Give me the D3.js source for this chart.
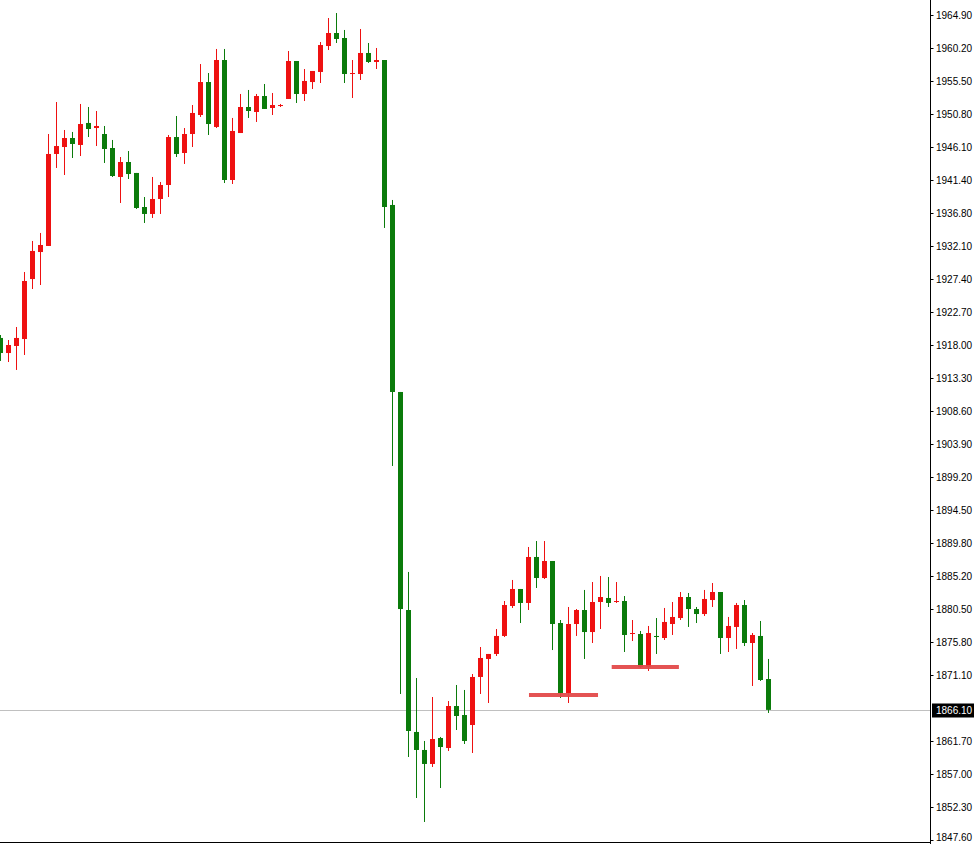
<!DOCTYPE html>
<html>
<head>
<meta charset="utf-8">
<script src="https://cdn.jsdelivr.net/npm/d3@7"></script>
<style>
  html, body { margin: 0; padding: 0; background: #fff; }
  svg { display: block; }
</style>
</head>
<body>
<svg id="chart" width="979" height="844"></svg>
<script>
// ---- data ----
const opens  = [1918.98,1916.84,1917.84,1918.83,1927.36,1931.20,1932.06,1945.14,1946.13,1947.41,
                1946.42,1949.55,1948.83,1947.98,1945.99,1941.87,1944.00,1942.44,1937.60,1936.61,
                1938.74,1940.73,1947.55,1945.28,1947.98,1950.68,1955.37,1948.98,1958.50,1941.44,
                1948.12,1951.82,1951.11,1953.38,1951.68,1951.96,1952.96,1958.36,1953.67,1955.37,
                1956.80,1960.49,1962.34,1961.63,1956.51,1956.51,1959.50,1958.22,1958.50,1937.89,
                1911.30,1880.30,1862.96,1860.40,1858.41,1862.10,1860.68,1866.65,1865.37,1863.95,
                1870.78,1873.34,1874.05,1876.61,1880.87,1883.29,1881.30,1887.84,1884.85,1887.27,
                1878.45,1868.50,1878.31,1880.30,1877.17,1881.44,1882.01,1881.44,1881.58,1876.89,
                1876.89,1872.20,1876.61,1876.32,1878.31,1879.16,1882.15,1880.44,1879.73,1881.72,
                1882.86,1876.32,1877.89,1881.01,1875.61,1876.61,1870.49];
const highs  = [1919.40,1918.69,1920.54,1928.36,1932.77,1933.91,1947.98,1952.53,1948.55,1948.27,
                1952.25,1951.82,1951.25,1949.12,1947.13,1944.71,1945.56,1942.44,1939.02,1941.87,
                1941.16,1947.84,1950.54,1948.83,1952.10,1957.93,1956.65,1960.07,1960.07,1950.26,
                1953.67,1954.24,1953.67,1955.09,1953.81,1952.25,1959.78,1958.36,1957.22,1956.94,
                1961.06,1964.47,1965.18,1962.77,1958.50,1962.91,1960.92,1960.21,1958.50,1938.60,
                1911.30,1885.71,1870.63,1861.68,1867.93,1862.25,1867.36,1869.64,1868.93,1871.20,
                1875.04,1874.05,1877.60,1881.58,1884.57,1883.29,1889.26,1890.11,1890.11,1887.27,
                1878.88,1880.73,1880.44,1883.15,1884.28,1885.14,1884.99,1884.28,1882.29,1878.88,
                1877.32,1878.03,1879.16,1880.59,1881.44,1882.86,1882.72,1880.73,1883.15,1884.14,
                1882.86,1879.31,1881.30,1881.72,1877.03,1878.74,1873.34];
const lows   = [1915.71,1915.56,1914.43,1916.56,1925.94,1926.51,1932.06,1943.15,1942.15,1944.57,
                1944.85,1947.55,1946.27,1943.86,1941.87,1938.17,1941.58,1937.32,1935.33,1936.04,
                1936.61,1939.02,1944.71,1943.72,1946.13,1950.40,1947.84,1948.83,1941.01,1940.87,
                1948.12,1950.26,1949.69,1951.54,1950.68,1951.82,1952.96,1952.39,1952.67,1954.38,
                1955.23,1959.92,1960.92,1955.23,1953.10,1955.66,1958.08,1957.22,1934.62,1900.78,
                1868.36,1859.40,1853.57,1850.16,1857.98,1854.99,1860.25,1863.24,1861.25,1859.97,
                1868.36,1867.08,1873.76,1876.46,1880.59,1878.45,1880.30,1883.43,1884.71,1874.61,
                1867.79,1867.08,1876.61,1873.34,1875.61,1877.60,1880.73,1881.30,1874.33,1875.89,
                1872.06,1871.63,1874.05,1876.04,1876.75,1878.88,1877.89,1878.45,1879.45,1880.73,
                1874.05,1874.33,1874.76,1875.18,1869.50,1870.21,1865.66];
const closes = [1916.84,1917.98,1918.98,1927.08,1931.35,1932.20,1945.14,1946.27,1947.41,1946.56,
                1949.40,1948.69,1949.12,1945.85,1942.01,1944.00,1942.29,1937.46,1936.61,1938.74,
                1940.73,1947.55,1945.14,1947.98,1950.97,1955.37,1949.40,1958.50,1941.44,1948.41,
                1951.82,1951.25,1953.38,1951.54,1952.10,1952.10,1958.36,1953.67,1955.52,1956.94,
                1960.63,1962.34,1961.49,1956.51,1956.65,1959.50,1958.22,1958.50,1937.60,1911.30,
                1880.44,1863.10,1860.40,1858.41,1861.96,1860.82,1866.65,1865.23,1861.68,1870.78,
                1873.48,1874.05,1876.61,1881.01,1883.29,1881.30,1887.84,1884.85,1887.27,1878.31,
                1868.50,1878.31,1880.30,1877.17,1881.44,1882.15,1881.30,1881.58,1876.75,1877.03,
                1872.20,1877.03,1876.46,1878.60,1879.31,1882.15,1880.44,1879.73,1881.87,1882.86,
                1876.32,1878.03,1881.01,1875.61,1876.75,1870.35,1866.10];
const tickLabels = ["1964.90","1960.20","1955.50","1950.80","1946.10","1941.40","1936.80","1932.10",
                    "1927.40","1922.70","1918.00","1913.30","1908.60","1903.90","1899.20","1894.50",
                    "1889.80","1885.20","1880.50","1875.80","1871.10","1861.70","1857.00","1852.30","1847.60"];
const currentPrice = [1866.10];
const supportPrices = [1868.22, 1872.20];
const supportStart  = [66.06, 76.4];
const supportEnd    = [74.69, 84.8];

// ---- layout ----
const W = 979, H = 844, axisX = 930.5;
const svg = d3.select("#chart");
const n = opens.length;
const x = d3.scaleLinear().domain([0, n - 1]).range([0.5, 0.5 + 8 * (n - 1)]);
const y = d3.scaleLinear().domain([1847.6, 1964.9]).range([840, 15]);
const UP = "#ee1111", DOWN = "#0b7b0b";

const data = opens.map((o, i) => ({ i, o, h: highs[i], l: lows[i], c: closes[i] }));

// current price line
svg.append("line")
  .attr("x1", 0).attr("x2", axisX)
  .attr("y1", Math.round(y(currentPrice[0])) + 0.5).attr("y2", Math.round(y(currentPrice[0])) + 0.5)
  .attr("stroke", "#c0c0c0").attr("stroke-width", 1);

// candles
const g = svg.append("g");
g.selectAll("line.wick").data(data).enter().append("line")
  .attr("class", "wick")
  .attr("x1", d => x(d.i)).attr("x2", d => x(d.i))
  .attr("y1", d => y(d.h)).attr("y2", d => y(d.l))
  .attr("stroke", d => d.c >= d.o ? UP : DOWN).attr("stroke-width", 1);
g.selectAll("rect.body").data(data).enter().append("rect")
  .attr("class", "body")
  .attr("x", d => x(d.i) - 2.5).attr("width", 5)
  .attr("y", d => y(Math.max(d.o, d.c)))
  .attr("height", d => Math.max(1, Math.abs(y(d.o) - y(d.c))))
  .attr("fill", d => d.c >= d.o ? UP : DOWN);

// support lines
supportPrices.forEach((p, k) => {
  svg.append("line")
    .attr("x1", x(supportStart[k])).attr("x2", x(supportEnd[k]))
    .attr("y1", y(p)).attr("y2", y(p))
    .attr("stroke", "#e34a4a").attr("stroke-width", 4).attr("opacity", 0.95);
});

// right axis
svg.append("line").attr("x1", axisX).attr("x2", axisX).attr("y1", 0).attr("y2", H)
  .attr("stroke", "#000").attr("stroke-width", 1);
svg.append("line").attr("x1", 0).attr("x2", axisX).attr("y1", 842.5).attr("y2", 842.5)
  .attr("stroke", "#000").attr("stroke-width", 1);

const ticks = svg.append("g");
tickLabels.forEach(t => {
  const yy = Math.round(y(+t)) + 0.5;
  ticks.append("line").attr("x1", axisX).attr("x2", axisX + 3).attr("y1", yy).attr("y2", yy)
    .attr("stroke", "#000");
  ticks.append("text").attr("x", 936).attr("y", Math.min(yy, H - 7)).attr("dy", "0.35em")
    .attr("font-family", "Liberation Sans, Arial, sans-serif").attr("font-size", 10)
    .attr("fill", "#000").text(t);
});

// current price label
const cy = Math.round(y(currentPrice[0])) + 0.5;
svg.append("rect").attr("x", 932).attr("y", cy - 7).attr("width", 42).attr("height", 14).attr("fill", "#000");
svg.append("text").attr("x", 936).attr("y", cy).attr("dy", "0.35em")
  .attr("font-family", "Liberation Sans, Arial, sans-serif").attr("font-size", 10)
  .attr("fill", "#fff").text(currentPrice[0].toFixed(2));
</script>
</body>
</html>
